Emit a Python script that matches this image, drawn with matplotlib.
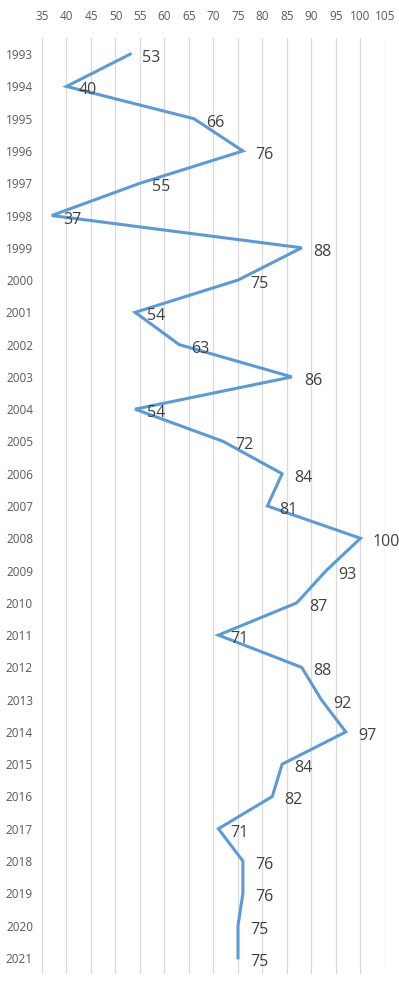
import matplotlib
matplotlib.use("Agg")
import matplotlib.pyplot as plt

years = list(range(1993, 2022))
values = [53, 40, 66, 76, 55, 37, 88, 75, 54, 63, 86, 54, 72, 84, 81,
          100, 93, 87, 71, 88, 92, 97, 84, 82, 71, 76, 76, 75, 75]
xticks = list(range(35, 110, 5))

plt.rcParams['font.family'] = ['Open Sans', 'DejaVu Sans']

fig = plt.figure(figsize=(3.99, 9.86), dpi=100)
ax = fig.add_axes([42 / 399, 1 - 974 / 986, (385 - 42) / 399, (974 - 38) / 986])

pos = list(range(len(years)))
ax.plot(values, pos, color='#5B9BD5', lw=2.2, solid_joinstyle='miter', zorder=3)

for v, p in zip(values, pos):
    ax.annotate(str(v), (v, p), xytext=(12, -2), textcoords='offset pixels',
                ha='left', va='center_baseline', fontsize=11.5, color='#404040')

ax.set_xlim(35, 105)
ax.set_ylim(len(years) - 0.5, -0.5)
ax.set_xticks(xticks)
ax.set_yticks(pos)
ax.set_yticklabels([str(y) for y in years])
ax.xaxis.tick_top()
ax.tick_params(axis='x', length=0, pad=11, labelsize=8.5, labelcolor='#595959')
ax.tick_params(axis='y', length=0, pad=6.5, labelsize=8.5, labelcolor='#595959')
ax.grid(axis='x', color='#D9D9D9', lw=0.9)
ax.set_axisbelow(True)
for s in ax.spines.values():
    s.set_visible(False)

fig.savefig('out.png', dpi=100)
